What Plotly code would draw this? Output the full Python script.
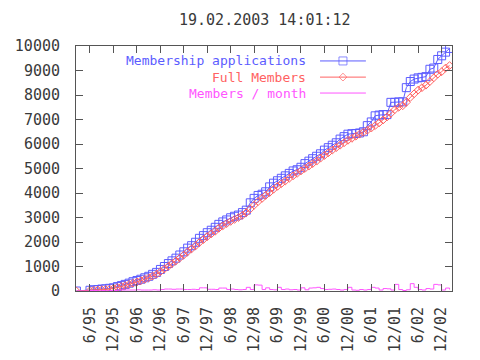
import plotly.graph_objects as go
import pandas as pd

# ---- data ----
month_starts = pd.date_range('1995-06-01', '2003-02-01', freq='MS')
dates = ['1995-02-15'] + [d.strftime('%Y-%m-%d') for d in month_starts]

applications = [0,
    30, 50, 60, 80, 90, 110, 130, 180, 220, 270, 320, 380,
    430, 480, 540, 600, 680, 760, 880, 1000, 1120, 1230, 1340, 1470,
    1600, 1750, 1850, 1990, 2150, 2260, 2380, 2480, 2600, 2720, 2820, 2900,
    2990, 3050, 3100, 3200, 3300, 3600, 3780, 3900, 3950, 4050, 4250, 4400,
    4500, 4600, 4700, 4800, 4900, 4950, 5050, 5200, 5300, 5400, 5500, 5600,
    5750, 5850, 5950, 6050, 6200, 6300, 6400, 6420, 6430, 6450, 6500, 6750,
    6900, 7150, 7180, 7200, 7200, 7700, 7700, 7720, 7720, 8300, 8550, 8650,
    8700, 8720, 8750, 9050, 9100, 9450, 9600, 9750, 9900]

full_members = [0,
    20, 30, 40, 50, 60, 80, 100, 140, 180, 220, 270, 320,
    370, 420, 480, 540, 610, 690, 790, 900, 1010, 1120, 1230, 1350,
    1470, 1600, 1720, 1840, 1980, 2100, 2220, 2330, 2440, 2560, 2660, 2750,
    2840, 2920, 3000, 3090, 3200, 3350, 3500, 3650, 3780, 3900, 4020, 4150,
    4270, 4380, 4490, 4600, 4700, 4800, 4900, 5000, 5100, 5200, 5300, 5420,
    5530, 5640, 5750, 5850, 5950, 6050, 6150, 6230, 6320, 6400, 6480, 6560,
    6650, 6750, 6860, 6980, 7100, 7250, 7400, 7500, 7560, 7700, 7900, 8050,
    8200, 8300, 8400, 8550, 8700, 8850, 8950, 9100, 9200]

members_per_month = [0,
    20, 20, 10, 20, 10, 20, 20, 40, 40, 40, 40, 40,
    50, 40, 40, 40, 50, 40, 60, 80, 80, 70, 80, 80,
    60, 60, 70, 60, 130, 130, 70, 70, 60, 120, 120, 60,
    80, 60, 50, 60, 150, 60, 250, 240, 60, 130, 60, 50,
    150, 60, 80, 50, 60, 40, 130, 50, 120, 130, 150, 100,
    60, 70, 80, 60, 40, 60, 150, 40, 30, 60, 40, 60,
    150, 120, 40, 100, 90, 40, 270, 60, 20, 50, 300, 150,
    60, 40, 100, 80, 270, 250, 40, 120, 60]

tick_dates = ['1995-06-01', '1995-12-01', '1996-06-01', '1996-12-01',
              '1997-06-01', '1997-12-01', '1998-06-01', '1998-12-01',
              '1999-06-01', '1999-12-01', '2000-06-01', '2000-12-01',
              '2001-06-01', '2001-12-01', '2002-06-01', '2002-12-01']
tick_labels = ['6/95', '12/95', '6/96', '12/96', '6/97', '12/97', '6/98', '12/98',
               '6/99', '12/99', '6/00', '12/00', '6/01', '12/01', '6/02', '12/02']
y_ticks = [0, 1000, 2000, 3000, 4000, 5000, 6000, 7000, 8000, 9000, 10000]
y_labels = ['0', '1000', '2000', '3000', '4000', '5000', '6000', '7000', '8000', '9000', '10000']

series_names = ['Membership applications', 'Full Members', 'Members / month']
title_text = '19.02.2003 14:01:12'

# ---- styles ----
BLUE = '#5c5cff'
RED = '#ff6262'
MAGENTA = '#ff55ff'
AXIS = '#555555'
TEXT = '#3a3a3a'
FONT = 'DejaVu Sans Mono'

fig = go.Figure()
fig.add_trace(go.Scatter(x=dates, y=applications, mode='lines+markers',
                         line=dict(color=BLUE, width=1),
                         marker=dict(symbol='square-open', size=8, color=BLUE, line=dict(width=1)),
                         showlegend=False, hoverinfo='skip'))
fig.add_trace(go.Scatter(x=dates, y=full_members, mode='lines+markers',
                         line=dict(color=RED, width=1),
                         marker=dict(symbol='diamond-open', size=6, color=RED, line=dict(width=1)),
                         showlegend=False, hoverinfo='skip'))
fig.add_trace(go.Scatter(x=dates, y=members_per_month, mode='lines',
                         line=dict(color=MAGENTA, width=1, shape='hv'),
                         showlegend=False, hoverinfo='skip'))

# ---- gnuplot style key (text right-aligned, sample to the right) ----
key_rows = [0.939, 0.873, 0.808]
key_colors = [BLUE, RED, MAGENTA]
key_symbols = ['square-open', 'diamond-open', None]
key_sizes = [8, 6, 0]
for name, yr, col, sym, sz in zip(series_names, key_rows, key_colors, key_symbols, key_sizes):
    fig.add_annotation(x=0.617, y=yr, xref='paper', yref='paper', text=name,
                       showarrow=False, xanchor='right', yanchor='middle',
                       font=dict(family=FONT, size=13, color=col))
    fig.add_trace(go.Scatter(x=[0.649, 0.710, 0.771], y=[yr, yr, yr],
                             xaxis='x2', yaxis='y2',
                             mode='lines+markers' if sym else 'lines',
                             line=dict(color=col, width=1),
                             marker=dict(symbol=sym or 'circle', size=[0, sz, 0], color=col,
                                         line=dict(width=1)),
                             showlegend=False, hoverinfo='skip'))

# page body adds an 8px offset, so margins are reduced by 8 on left/top
fig.update_layout(
    width=480, height=360,
    margin=dict(l=68, r=36, t=38, b=77),
    paper_bgcolor='white', plot_bgcolor='white',
    font=dict(family=FONT, size=15, color=TEXT),
    title=dict(text=title_text, x=0.535, xanchor='center', y=0.967, yanchor='middle',
               font=dict(family=FONT, size=15, color=TEXT)),
    xaxis=dict(type='date', range=['1995-02-12', '2003-02-20'], automargin=False,
               tickvals=tick_dates, ticktext=tick_labels, tickangle=-90,
               ticks='inside', ticklen=7, tickcolor=AXIS, ticklabelstandoff=9,
               showline=True, linecolor=AXIS, linewidth=1, mirror='allticks',
               showgrid=False, zeroline=False,
               tickfont=dict(family=FONT, size=15, color=TEXT)),
    yaxis=dict(range=[0, 10000], tickvals=y_ticks, ticktext=y_labels, automargin=False,
               ticks='inside', ticklen=7, tickcolor=AXIS, ticklabelstandoff=12,
               showline=True, linecolor=AXIS, linewidth=1, mirror='allticks',
               showgrid=False, zeroline=False,
               tickfont=dict(family=FONT, size=15, color=TEXT)),
    xaxis2=dict(overlaying='x', range=[0, 1], visible=False),
    yaxis2=dict(overlaying='y', range=[0, 1], visible=False),
)

fig.write_html('out.html')
